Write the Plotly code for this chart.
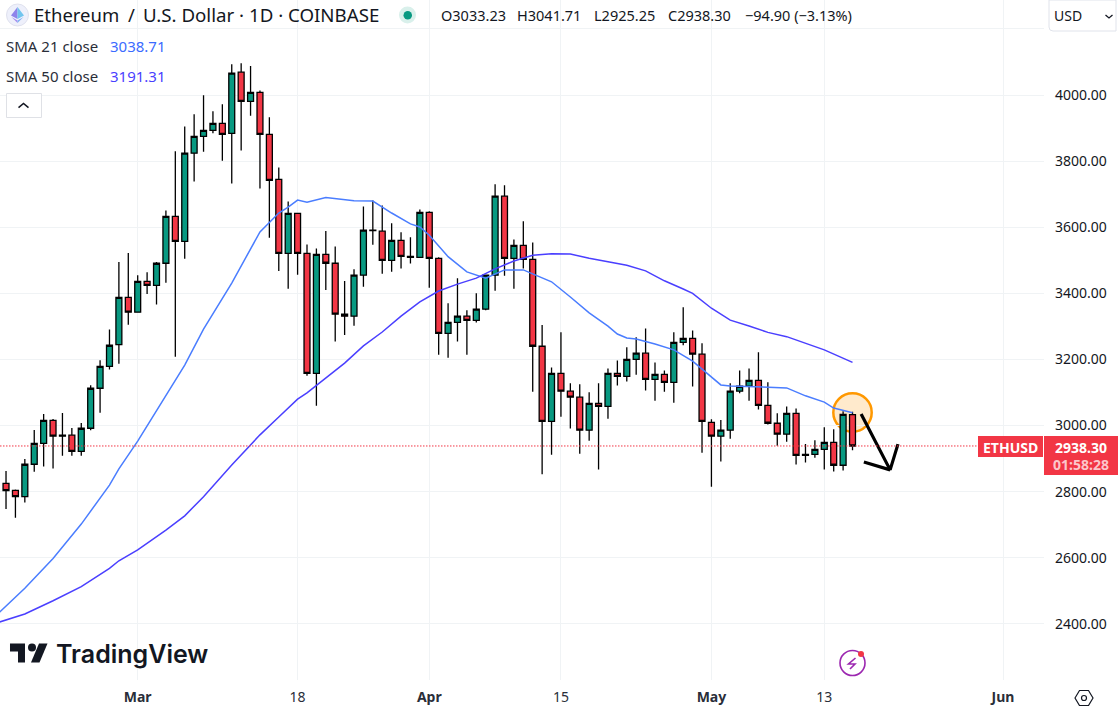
import plotly.graph_objects as go
import pandas as pd

W = 1118
H = 706
font_name = "Noto Sans"

mar1 = pd.Timestamp("2024-03-01")

# daily candles, feb 16 to may 15
opens = [2825, 2804, 2785, 2883, 2946, 3016, 2968, 2971, 2922, 2992, 3113, 3179, 3245, 3388, 3343, 3436, 3424, 3491,
         3633, 3557, 3824, 3875, 3893, 3914, 3884, 4069, 3981, 4008, 3881, 3745, 3521, 3642, 3521, 3158, 3518, 3491,
         3337, 3331, 3455, 3591, 3588, 3500, 3560, 3512, 3509, 3645, 3506, 3279, 3312, 3331, 3318, 3352, 3455, 3694,
         3506, 3545, 3503, 3240, 3013, 3158, 3104, 3086, 2986, 3067, 3058, 3158, 3149, 3200, 3219, 3140, 3155, 3131,
         3252, 3264, 3216, 3010, 2968, 2986, 3104, 3119, 3137, 3061, 3007, 2974, 3037, 2910, 2913, 2928, 2949, 2880,
         3033.23]
highs = [2863, 2807, 2899, 2987, 3035, 3020, 3038, 2993, 3008, 3122, 3198, 3291, 3495, 3522, 3455, 3464, 3495, 3651,
         3830, 3905, 3942, 3999, 3951, 3972, 4093, 4096, 4088, 4014, 3933, 3781, 3678, 3644, 3548, 3536, 3589, 3542,
         3437, 3473, 3663, 3681, 3666, 3612, 3585, 3570, 3654, 3648, 3509, 3370, 3446, 3349, 3400, 3455, 3730, 3727,
         3563, 3618, 3554, 3304, 3176, 3282, 3128, 3125, 3101, 3128, 3173, 3197, 3237, 3267, 3294, 3191, 3167, 3282,
         3358, 3288, 3249, 3019, 3017, 3128, 3167, 3173, 3222, 3131, 3037, 3058, 3052, 2944, 2956, 2995, 2989, 3043,
         3041.71]
lows = [2748, 2721, 2767, 2860, 2876, 2870, 2909, 2909, 2909, 2986, 3039, 3170, 3187, 3305, 3343, 3398, 3366, 3432,
        3208, 3505, 3738, 3828, 3884, 3801, 3732, 3832, 3937, 3717, 3568, 3468, 3414, 3456, 3151, 3060, 3410, 3254,
        3274, 3302, 3420, 3547, 3459, 3465, 3475, 3490, 3509, 3417, 3214, 3205, 3254, 3214, 3312, 3349, 3408, 3453,
        3414, 3475, 3102, 2853, 2912, 3027, 2991, 2915, 2954, 2867, 3021, 3121, 3133, 3154, 3106, 3075, 3102, 3069,
        3243, 3118, 2918, 2815, 2891, 2960, 3098, 3075, 3049, 3003, 2939, 2951, 2882, 2888, 2903, 2867, 2861, 2864,
        2925.25]
closes = [2803, 2785, 2883, 2946, 3016, 2968, 2971, 2922, 2992, 3113, 3179, 3243, 3388, 3343, 3436, 3424, 3491, 3633,
          3557, 3824, 3875, 3893, 3914, 3881, 4066, 3981, 4008, 3881, 3742, 3521, 3642, 3521, 3158, 3518, 3491, 3337,
          3331, 3455, 3591, 3590, 3500, 3560, 3512, 3509, 3645, 3506, 3279, 3312, 3331, 3318, 3352, 3455, 3694, 3506,
          3545, 3503, 3240, 3013, 3158, 3104, 3086, 2986, 3067, 3058, 3158, 3149, 3200, 3219, 3140, 3155, 3131, 3252,
          3264, 3216, 3013, 2968, 2986, 3104, 3119, 3137, 3061, 3007, 2974, 3037, 2910, 2913, 2928, 2949, 2880, 3034,
          2938.30]

# moving averages (days counted from mar 1)
sma21_days = [-15, -12, -9, -6, -3, -2, 0, 3, 5, 7, 10, 13, 15, 16, 17, 18, 20, 23, 25, 27, 29, 30, 31, 33, 35, 37, 38,
              39, 41, 43, 44, 46, 48, 50, 51, 52, 53, 55, 57, 59, 61, 62, 63, 66, 69, 71, 73, 74, 76]
sma21 = [2427, 2508, 2598, 2702, 2820, 2869, 2953, 3090, 3183, 3292, 3431, 3586, 3643, 3661, 3682, 3676, 3690, 3680,
         3679, 3643, 3610, 3601, 3576, 3511, 3465, 3446, 3458, 3471, 3471, 3446, 3435, 3389, 3341, 3301, 3277, 3265,
         3262, 3247, 3229, 3195, 3147, 3123, 3120, 3117, 3114, 3090, 3071, 3053, 3038.71]
sma50_days = [-15, -12, -9, -6, -3, -2, 0, 3, 5, 7, 10, 13, 15, 17, 18, 20, 22, 24, 26, 28, 30, 32, 34, 36, 38, 40, 42,
              44, 46, 48, 50, 52, 54, 56, 58, 59, 61, 63, 65, 67, 69, 71, 73, 76]
sma50 = [2403, 2430, 2470, 2513, 2568, 2591, 2624, 2684, 2727, 2785, 2881, 2972, 3026, 3080, 3099, 3144, 3189, 3241,
         3283, 3331, 3374, 3407, 3428, 3446, 3474, 3498, 3515, 3520, 3519, 3506, 3496, 3485, 3468, 3438, 3413, 3400,
         3355, 3319, 3301, 3282, 3269, 3248, 3229, 3191.31]

# the hand drawn arrow and circle on the chart
arrow_times = ["2024-05-16 22:00", "2024-05-20 00:00", "2024-05-20 20:00", None, "2024-05-17 05:00", "2024-05-20 00:00"]
arrow_prices = [3035, 2866, 2944, None, 2890, 2866]
circle_times = ["2024-05-13 23:00", "2024-05-18 01:00"]
circle_prices = [2981.5, 3097.6]

price_ticks = [2400, 2600, 2800, 3000, 3200, 3400, 3600, 3800, 4000, 4200]
price_labels = ["2400.00", "2600.00", "2800.00", "3000.00", "3200.00", "3400.00", "3600.00", "3800.00", "4000.00", ""]
date_ticks = ["2024-03-01", "2024-03-18", "2024-04-01", "2024-04-15", "2024-05-01", "2024-05-13", "2024-06-01"]
date_labels = ["<b>Mar</b>", "18", "<b>Apr</b>", "15", "<b>May</b>", "13", "<b>Jun</b>"]
last_price = 2938.30

dates = pd.date_range("2024-02-16", periods=len(closes), freq="D")


def days_to_dates(days):
    return [mar1 + pd.Timedelta(days=d) for d in days]


# page pixels to paper coordinates
def px(x):
    return x / W


def py(y):
    return 1 - y / H


def label(x, y, text, size=14, color="#131722", anchor="left", **kw):
    fig.add_annotation(xref="paper", yref="paper", x=px(x), y=py(y), text=text, showarrow=False, xanchor=anchor,
                       yanchor="middle", borderpad=0, borderwidth=0,
                       font=dict(family=kw.pop("family", font_name), size=size, color=color,
                                 weight=kw.pop("weight", "normal")), **kw)


def box(x0, y0, x1, y1, fill, line="rgba(0,0,0,0)", width=1, kind="rect"):
    fig.add_shape(type=kind, xref="paper", yref="paper", x0=px(x0), x1=px(x1), y0=py(y0), y1=py(y1), fillcolor=fill,
                  line=dict(color=line, width=width))


def poly(points, fill="rgba(0,0,0,0)", line="rgba(0,0,0,0)", width=1, close=True):
    path = "M" + " L".join(f"{px(a):.5f},{py(b):.5f}" for a, b in points) + (" Z" if close else "")
    fig.add_shape(type="path", xref="paper", yref="paper", path=path, fillcolor=fill, line=dict(color=line, width=width))


fig = go.Figure()
fig.add_trace(go.Scatter(x=days_to_dates(sma21_days), y=sma21, mode="lines", line=dict(color="#4a7dff", width=1.5),
                         hoverinfo="skip"))
fig.add_trace(go.Scatter(x=days_to_dates(sma50_days), y=sma50, mode="lines", line=dict(color="#4a3fff", width=1.5),
                         hoverinfo="skip"))
fig.add_trace(go.Candlestick(x=dates, open=opens, high=highs, low=lows, close=closes, whiskerwidth=0,
                             increasing=dict(fillcolor="#089981", line=dict(color="#000000", width=1.3)),
                             decreasing=dict(fillcolor="#f23645", line=dict(color="#000000", width=1.3))))
fig.add_trace(go.Scatter(x=arrow_times, y=arrow_prices, mode="lines", line=dict(color="#000000", width=3.2),
                         hoverinfo="skip"))

fig.update_layout(
    width=W, height=H, margin=dict(l=0, r=0, t=0, b=0), showlegend=False, paper_bgcolor="#ffffff",
    plot_bgcolor="#ffffff", font=dict(family=font_name, size=14, color="#131722"), boxgap=0.1, boxgroupgap=0.3,
    xaxis=dict(domain=[0, 1044 / W], range=["2024-02-15 08:38", "2024-06-05 08:38"], type="date",
               rangeslider=dict(visible=False), tickvals=date_ticks, ticktext=date_labels, tickangle=0,
               showgrid=True, gridcolor="#f0f3f5", gridwidth=1, zeroline=False, showline=False, ticks="",
               ticklabelstandoff=7, tickfont=dict(size=14, color="#2a2e39")),
    yaxis=dict(domain=[26 / H, 1], range=[2230.4, 4287.4], side="right", tickvals=price_ticks, ticktext=price_labels,
               showgrid=True, gridcolor="#f0f3f5", gridwidth=1, zeroline=False, showline=False, ticks="",
               ticklabelstandoff=10, tickfont=dict(size=14, color="#131722")),
)

# last price line and orange circle
fig.add_shape(type="line", xref="paper", yref="y", x0=0, x1=px(978), y0=last_price, y1=last_price,
              line=dict(color="#f23645", width=1, dash="1.5px,1.5px"))
fig.add_shape(type="circle", xref="x", yref="y", x0=circle_times[0], x1=circle_times[1], y0=circle_prices[0],
              y1=circle_prices[1], fillcolor="rgba(255,152,0,0.2)", line=dict(color="#ff9800", width=2.5),
              layer="below")

# price tags
box(978, 436, 1043, 457, "#f23645")
box(1044, 436, 1118, 475, "#f23645")
label(1010.5, 447, "ETHUSD", color="#ffffff", anchor="center", weight="bold")
label(1081, 447, "2938.30", color="#ffffff", anchor="center", weight="bold")
label(1081, 464.5, "01:58:28", color="#fcc6cb", anchor="center", weight="bold")

# header
box(6.5, 4, 28.5, 26, "#eef0fb", "#dfe1ee", kind="circle")
poly([(17.5, 7), (11, 15.5), (17.5, 19), (17.5, 7)], fill="#8f84ea")
poly([(17.5, 7), (24, 15.5), (17.5, 19), (17.5, 7)], fill="#72c5ee")
poly([(11.5, 17), (17.5, 23), (17.5, 20.5)], fill="#a68cf0")
poly([(23.5, 17), (17.5, 23), (17.5, 20.5)], fill="#7fb0f2")
label(34, 15, "Ethereum", size=18.5)
label(128, 15, "/", size=18.5)
label(143, 15, "U.S. Dollar · 1D · COINBASE", size=18.7)
box(399, 6.5, 416, 23.5, "#d9f0eb", kind="circle")
box(403.5, 11, 412, 19.5, "#089981", kind="circle")
label(441, 15, "O3033.23", size=14.5)
label(517, 15, "H3041.71", size=14.5)
label(594, 15, "L2925.25", size=14.5)
label(668, 15, "C2938.30", size=14.5)
label(745, 15, "−94.90 (−3.13%)", size=14.5)

# currency button
fig.add_shape(type="path", xref="paper", yref="paper", fillcolor="#ffffff", line=dict(color="#e0e3eb", width=1),
              path=f"M{px(1049)},{py(0)} L{px(1049)},{py(27)} Q{px(1049)},{py(31)} {px(1053)},{py(31)} "
                   f"L{px(1116)},{py(31)} L{px(1116)},{py(0)} Z")
label(1054, 16, "USD", size=14)
poly([(1105.5, 15), (1109, 18), (1112.5, 15)], line="#131722", width=1.3, close=False)

# sma legend
label(6, 46, "SMA 21 close", size=15, color="#2a2e39")
label(110, 46, "3038.71", size=15, color="#3b6bff")
label(6, 76, "SMA 50 close", size=15, color="#2a2e39")
label(110, 76, "3191.31", size=15, color="#4a3fff")
fig.add_shape(type="rect", xref="paper", yref="paper", x0=px(6.5), x1=px(41.5), y0=py(93.5), y1=py(117.5),
              line=dict(color="#dfe1e6", width=1), fillcolor="#ffffff")
poly([(18.5, 107.5), (23.5, 103.5), (28.5, 107.5)], line="#131722", width=1.6, close=False)

# tradingview logo
poly([(10, 643.5), (25, 643.5), (25, 662.5), (18, 662.5), (18, 651.5), (10, 651.5)], fill="#131722")
box(28, 643.5, 36, 651.5, "#131722", kind="circle")
poly([(39, 643.5), (47.5, 643.5), (39.5, 662.5), (31, 662.5)], fill="#131722")
label(56, 654, "TradingView", size=25, family="Inter", weight=600)

# bolt icon
box(840, 650.5, 865, 675.5, "rgba(0,0,0,0)", "#9c27b0", 1.6, kind="circle")
poly([(855.5, 658), (848.5, 664), (855, 664), (850, 669)], line="#9c27b0", width=1.6, close=False)
box(858, 651, 864, 657, "#f23645", kind="circle")

# settings hexagon
poly([(1075, 698), (1079.5, 690.5), (1088.5, 690.5), (1093, 698), (1088.5, 705.5), (1079.5, 705.5)],
     line="#131722", width=1.2)
box(1081.5, 695.5, 1086.5, 700.5, "rgba(0,0,0,0)", "#131722", 1.2, kind="circle")

fig.write_html("out.html", config={"displayModeBar": False},
               post_script="document.body.style.margin='0';document.body.style.overflow='hidden';")
